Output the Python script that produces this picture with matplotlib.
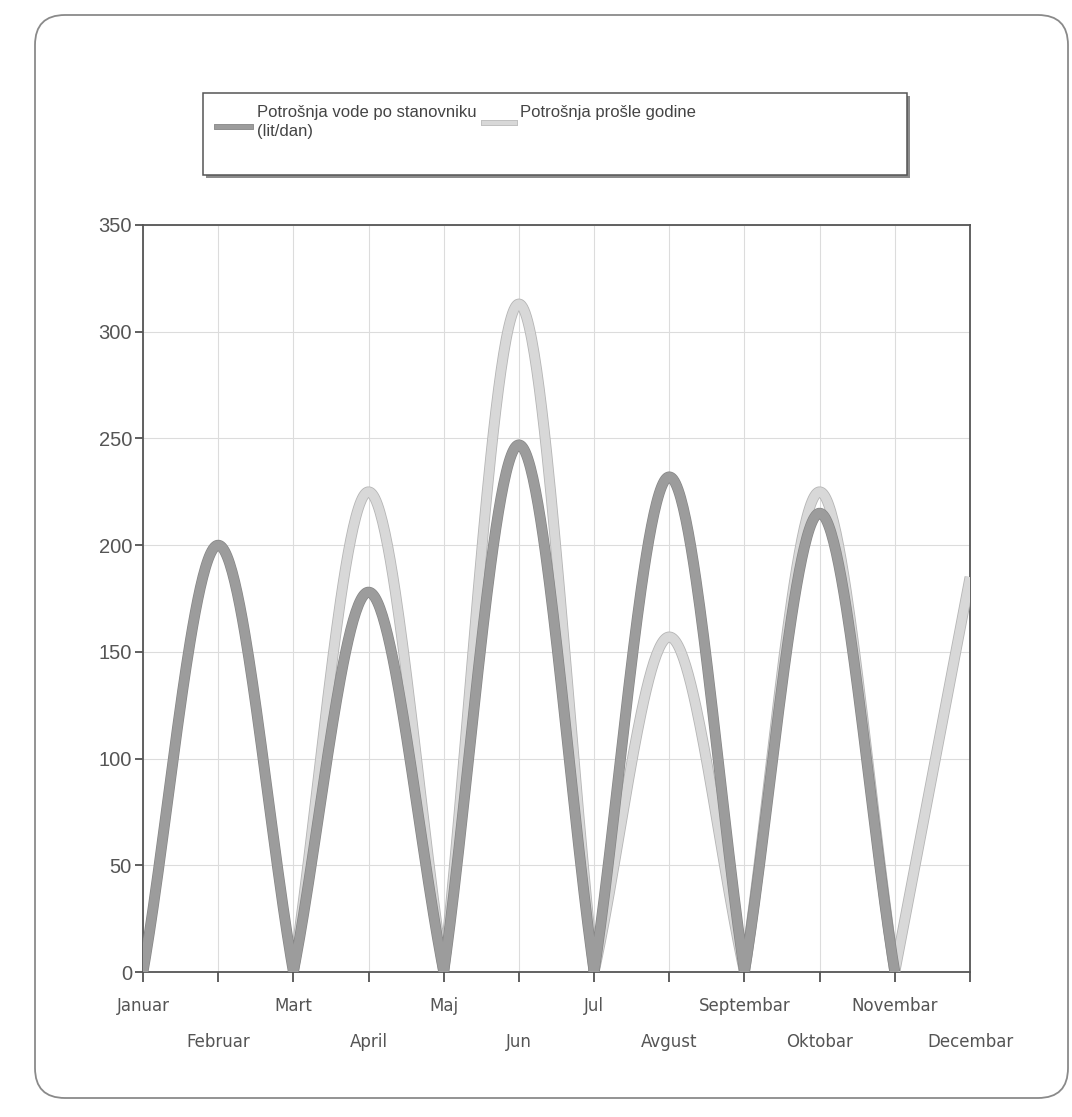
import numpy as np
import matplotlib
matplotlib.use('Agg')
import matplotlib.pyplot as plt
import matplotlib.patheffects as pe
from matplotlib.patches import FancyBboxPatch, Rectangle
from matplotlib.lines import Line2D

plt.rcParams['font.family'] = ['Liberation Sans', 'DejaVu Sans']

#%% data

meseci = ['Januar', 'Februar', 'Mart', 'April', 'Maj', 'Jun', 'Jul',
          'Avgust', 'Septembar', 'Oktobar', 'Novembar', 'Decembar']
potrosnja = [0, 200, 0, 178, 0, 247, 0, 232, 0, 215, 0, np.nan]
prosla_godina = [np.nan, np.nan, 0, 225, 0, 313, 0, 157, 0, 225, 0, 185]
y_ticks = [0, 50, 100, 150, 200, 250, 300, 350]

lab_1 = 'Potrošnja vode po stanovniku\n(lit/dan)'
lab_2 = 'Potrošnja prošle godine'

c_dark, e_dark = '#9c9c9c', '#868686'
c_light, e_light = '#d8d8d8', '#b5b5b5'


#%% smoothing like the chart control does (flat at peaks, V at zeros)

def is_peak(y, i):
    if i == 0 or i == len(y) - 1:
        return False
    if np.isnan(y[i - 1]) or np.isnan(y[i + 1]):
        return False
    return y[i] >= y[i - 1] and y[i] >= y[i + 1]


def smooth(vals, n=60):
    y = np.array(vals, dtype=float)
    xx, yy = [], []
    t = np.linspace(0, 1, n)
    h00 = 2*t**3 - 3*t**2 + 1
    h10 = t**3 - 2*t**2 + t
    h01 = -2*t**3 + 3*t**2
    h11 = t**3 - t**2
    for i in range(len(y) - 1):
        if np.isnan(y[i]) or np.isnan(y[i + 1]):
            continue
        sec = y[i + 1] - y[i]
        m0 = 0 if is_peak(y, i) else sec
        m1 = 0 if is_peak(y, i + 1) else sec
        xx.append(i + t)
        yy.append(h00*y[i] + h10*m0 + h01*y[i + 1] + h11*m1)
    return np.concatenate(xx), np.concatenate(yy)


#%% figure

W, H = 1072, 1117
fig = plt.figure(figsize=(W/100, H/100), dpi=100)
fig.patch.set_facecolor('white')

# outer rounded frame
fig.patches.append(FancyBboxPatch((0.35, 0.19), 10.33, 10.83,
                                  boxstyle='round,pad=0,rounding_size=0.3',
                                  transform=fig.dpi_scale_trans,
                                  facecolor='none', edgecolor='#8a8a8a',
                                  lw=1.3, zorder=0))

ax = fig.add_axes([143/W, 1 - 972/H, 827/W, 747/H])
ax.set_zorder(2)
ax.set_facecolor('white')

x1, y1 = smooth(potrosnja)
x2, y2 = smooth(prosla_godina)
ax.plot(x2, y2, color=c_light, lw=6.6, solid_capstyle='butt', zorder=3,
        path_effects=[pe.Stroke(linewidth=7.8, foreground=e_light), pe.Normal()])
ax.plot(x1, y1, color=c_dark, lw=6.8, solid_capstyle='butt', zorder=4,
        path_effects=[pe.Stroke(linewidth=7.8, foreground=e_dark), pe.Normal()])

ax.set_xlim(0, len(meseci) - 1)
ax.set_ylim(0, 350)
ax.set_yticks(y_ticks)
ax.set_xticks(range(len(meseci)))
ax.set_xticklabels(meseci, family='DejaVu Sans', fontsize=12, color='#555555')
ax.tick_params(axis='y', labelsize=14.5, labelcolor='#555555', length=6,
               width=1.2, color='#444444', pad=2)
ax.tick_params(axis='x', length=7, width=1.2, color='#444444', pad=11)
for k, tick in enumerate(ax.xaxis.get_major_ticks()):
    if k % 2 == 1:
        tick.set_pad(37)

ax.grid(True, color='#dcdcdc', lw=0.8)
ax.set_axisbelow(True)
for s in ax.spines.values():
    s.set_color('#555555')
    s.set_linewidth(1.3)

#%% legend box drawn by hand (layout of the original)

fig.patches.append(Rectangle((2.06, 9.39), 7.04, 0.82, transform=fig.dpi_scale_trans,
                             facecolor='#8c8c8c', edgecolor='none', zorder=1))
fig.patches.append(Rectangle((2.03, 9.42), 7.04, 0.82, transform=fig.dpi_scale_trans,
                             facecolor='white', edgecolor='#555555', lw=1.1, zorder=2))

fig.lines.append(Line2D([2.17, 2.51], [9.90, 9.90], transform=fig.dpi_scale_trans,
                        color=c_dark, lw=3.2, zorder=3,
                        path_effects=[pe.Stroke(linewidth=4.2, foreground=e_dark), pe.Normal()]))
fig.lines.append(Line2D([4.84, 5.15], [9.94, 9.94], transform=fig.dpi_scale_trans,
                        color=c_light, lw=3.2, zorder=3,
                        path_effects=[pe.Stroke(linewidth=4.2, foreground=e_light), pe.Normal()]))
fig.text(2.57, 10.12, lab_1, transform=fig.dpi_scale_trans, va='top', ha='left',
         fontsize=12, color='#444444', linespacing=1.35, zorder=3)
fig.text(5.20, 10.12, lab_2, transform=fig.dpi_scale_trans, va='top', ha='left',
         fontsize=12, color='#444444', zorder=3)

plt.savefig('out.png', dpi=100, facecolor='white')
